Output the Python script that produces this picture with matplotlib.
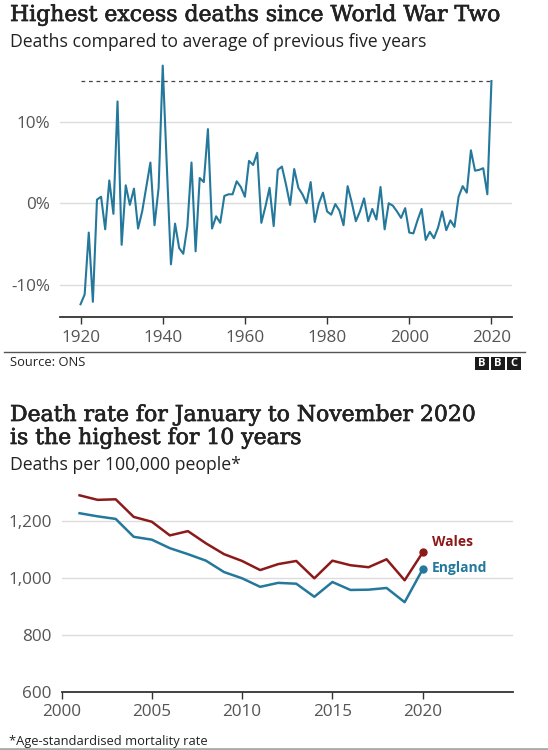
import matplotlib.pyplot as plt
import matplotlib.patheffects as pe
from matplotlib.patches import Rectangle
from matplotlib.lines import Line2D
import numpy as np

# excess deaths vs previous five-year average (%), 1920-2020
years_top = list(range(1920, 2021))
excess = [
    -12.4, -11.2, -3.6, -12.1, 0.45, 0.8, -3.2, 2.8, -1.3, 12.5,
    -5.1, 2.2, -0.2, 1.8, -3.1, -1.0, 2.0, 5.0, -2.7, 1.9,
    16.9, 4.5, -7.5, -2.5, -5.5, -6.2, -2.8, 5.0, -5.9, 3.1,
    2.6, 9.1, -3.1, -1.6, -2.4, 0.9, 1.1, 1.1, 2.7, 2.0,
    0.8, 5.2, 4.7, 6.2, -2.4, -0.4, 1.9, -2.8, 4.1, 4.5,
    2.3, -0.2, 4.2, 1.9, 1.1, 0.0, 2.6, -2.3, 0.0, 1.3,
    -1.0, -1.4, -0.1, -0.9, -2.7, 2.1, 0.1, -2.2, -1.0, 0.6,
    -2.2, -0.7, -2.0, 2.0, -3.2, 0.0, -0.3, -1.0, -1.8, -0.6,
    -3.6, -3.7, -2.1, -0.7, -4.5, -3.5, -4.3, -3.0, -1.0, -3.3,
    -2.1, -2.9, 0.8, 2.1, 1.3, 6.5, 4.0, 4.1, 4.3, 1.1,
    15.0,
]
top_yticks = [-10, 0, 10]
top_xticks = [1920, 1940, 1960, 1980, 2000, 2020]
ref_level = 15.0

# age-standardised mortality rate per 100,000, 2001-2020
years_bot = list(range(2001, 2021))
wales = [1292, 1276, 1278, 1216, 1199, 1151, 1166, 1123, 1085, 1061,
         1029, 1050, 1061, 1000, 1062, 1046, 1039, 1067, 993, 1091]
england = [1229, 1218, 1209, 1146, 1136, 1106, 1085, 1062, 1022, 1000,
           970, 984, 981, 935, 987, 959, 960, 966, 916, 1032]
bot_yticks = [600, 800, 1000, 1200]
bot_xticks = [2000, 2005, 2010, 2015, 2020]

W, H = 548, 750
BLUE = '#24789b'
RED = '#8c1a1a'
GRID = '#dcdcdc'
TICK = '#555555'
DARK = '#222222'
SANS = 'Open Sans'
SERIF = 'DejaVu Serif'

plt.rcParams['font.family'] = SANS

fig = plt.figure(figsize=(W / 100, H / 100), dpi=100)

# reference titles are a medium weight serif: thicken the regular face a touch
heavy = [pe.withStroke(linewidth=0.5, foreground=DARK)]


def fx(px):
    return px / W


def fy(py):
    return 1 - py / H


def axes_px(left, top, right, bottom):
    return fig.add_axes([fx(left), fy(bottom), (right - left) / W, (bottom - top) / H])


def style(ax, yticks, xticks, ylabels):
    for s in ['top', 'right', 'left']:
        ax.spines[s].set_visible(False)
    ax.spines['bottom'].set_color('#333333')
    ax.spines['bottom'].set_linewidth(1.3)
    ax.set_yticks(yticks)
    ax.set_yticklabels(ylabels)
    ax.set_xticks(xticks)
    ax.set_xticklabels([str(x) for x in xticks])
    ax.tick_params(axis='y', length=0, pad=7, labelsize=12.3, labelcolor=TICK)
    ax.tick_params(axis='x', length=5, width=1, color='#333333', pad=4,
                   labelsize=12.3, labelcolor=TICK)
    ax.grid(axis='y', color=GRID, linewidth=1)
    ax.set_axisbelow(True)


# ---- top chart
fig.text(fx(10), fy(21), 'Highest excess deaths since World War Two',
         family=SERIF, fontsize=15.8, color=DARK, va='baseline', path_effects=heavy)
fig.text(fx(10), fy(47), 'Deaths compared to average of previous five years',
         fontsize=12.7, color=DARK, va='baseline')

ax1 = axes_px(60, 60.7, 512, 317.3)
ax1.plot(years_top, excess, color=BLUE, linewidth=1.5)
ax1.plot([years_top[0], years_top[-1]], [ref_level, ref_level],
         color='#444444', linewidth=0.9, linestyle=(0, (3, 3)))
ax1.set_xlim(1915, 2025)
ax1.set_ylim(-14, 17.5)
style(ax1, top_yticks, top_xticks, ['-10%', '0%', '10%'])

# source line + logo
fig.add_artist(Line2D([fx(4), fx(525)], [fy(352), fy(352)], color='#555555', linewidth=1))
fig.text(fx(10), fy(362), 'Source: ONS', fontsize=9.3, color=DARK, va='center')
for i, ch in enumerate('BBC'):
    x0 = 475 + i * 16
    fig.add_artist(Rectangle((fx(x0), fy(370)), 14 / W, 13 / H,
                             transform=fig.transFigure, color='#1a1a1a', linewidth=0))
    fig.text(fx(x0 + 7), fy(363.5), ch, color='white', fontsize=8,
             fontweight='bold', ha='center', va='center')

# ---- bottom chart
fig.text(fx(10), fy(421), 'Death rate for January to November 2020',
         family=SERIF, fontsize=15.8, color=DARK, va='baseline', path_effects=heavy)
fig.text(fx(10), fy(444), 'is the highest for 10 years',
         family=SERIF, fontsize=15.8, color=DARK, va='baseline', path_effects=heavy)
fig.text(fx(10), fy(470), 'Deaths per 100,000 people*',
         fontsize=12.7, color=DARK, va='baseline')

ax2 = axes_px(61.5, 490.2, 513, 692)
ax2.plot(years_bot, wales, color=RED, linewidth=1.8)
ax2.plot(years_bot, england, color=BLUE, linewidth=1.8)
ax2.plot(years_bot[-1], wales[-1], 'o', color=RED, markersize=5)
ax2.plot(years_bot[-1], england[-1], 'o', color=BLUE, markersize=5)
ax2.text(2020.5, 1129, 'Wales', color=RED, fontsize=10, fontweight='bold', va='center')
ax2.text(2020.5, 1035, 'England', color=BLUE, fontsize=10, fontweight='bold', va='center')
ax2.set_xlim(2000, 2025)
ax2.set_ylim(600, 1310)
style(ax2, bot_yticks, bot_xticks, ['{:,}'.format(v) for v in bot_yticks])

fig.text(fx(9), fy(741), '*Age-standardised mortality rate', fontsize=9.3,
         color=DARK, va='center')
fig.add_artist(Line2D([0, 1], [fy(749), fy(749)], color='#aaaaaa', linewidth=2))

fig.savefig('out.png', dpi=100)
